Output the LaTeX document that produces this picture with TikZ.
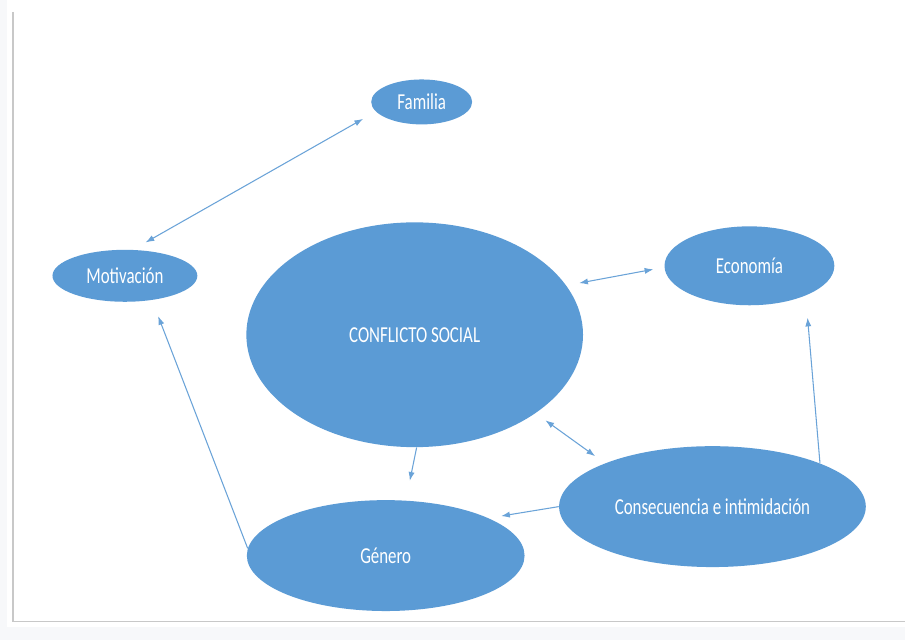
\documentclass[tikz,border=0pt]{standalone}
\usepackage{fontspec}
\newfontfamily\calfont[FakeStretch=0.74]{Carlito}
\usetikzlibrary{shapes.geometric,arrows.meta}
\definecolor{bubbleblue}{HTML}{5B9BD5}
\definecolor{linkblue}{HTML}{6AA3D8}
\definecolor{framegray}{HTML}{C8C8C8}
\definecolor{pagegray}{HTML}{F7F8FA}

\begin{document}
\begin{tikzpicture}[x=0.02cm,y=-0.02cm,
    bubble/.style={ellipse,fill=bubbleblue,inner sep=0pt,text=white,
      font=\calfont\fontsize{13}{15}\selectfont},
    link/.style={draw=linkblue,line width=0.6pt,-{Latex[length=5pt,width=3.5pt]}},
    both/.style={link,{Latex[length=5pt,width=3.5pt]}-{Latex[length=5pt,width=3.5pt]}}]
  \fill[pagegray] (0,0) rectangle (906,640);
  \fill[white] (7,0) rectangle (906,627);
  \draw[framegray,line width=0.8pt] (13,12) -- (13,622) -- (906,622);
  \useasboundingbox (0,0) rectangle (906,640);

  \node[bubble,minimum width=2.02cm,minimum height=0.9cm] (fam) at (422,102) {Familia};
  \node[bubble,minimum width=2.9cm,minimum height=1.04cm] (mot) at (125,276) {Motivación};
  \node[bubble,minimum width=6.74cm,minimum height=4.5cm] (conf) at (415,335) {CONFLICTO SOCIAL};
  \node[bubble,minimum width=3.4cm,minimum height=1.58cm] (eco) at (750,266) {Economía};
  \node[bubble,minimum width=6.14cm,minimum height=2.42cm] (cons) at (713,507) {Consecuencia e intimidación};
  \node[bubble,minimum width=5.56cm,minimum height=2.22cm] (gen) at (386,556) {Género};

  \draw[both,shorten <=0.29cm,shorten >=0.29cm] (fam.192) -- (mot.73);
  \draw[both,shorten <=0.26cm,shorten >=0.22cm] (conf.18) -- (eco.181);
  \draw[both,shorten <=0.24cm,shorten >=0.24cm] (conf.-33.5) -- (cons.158.6);
  \draw[link,shorten >=0.4cm] (conf.271) -- (gen.70);
  \draw[link,shorten >=0.25cm] (cons.180) -- (gen.20);
  \draw[link,shorten >=0.44cm] (cons.22) -- (eco.-28);
  \draw[link,shorten >=0.34cm] (gen.177) -- (mot.-42);
\end{tikzpicture}
\end{document}
